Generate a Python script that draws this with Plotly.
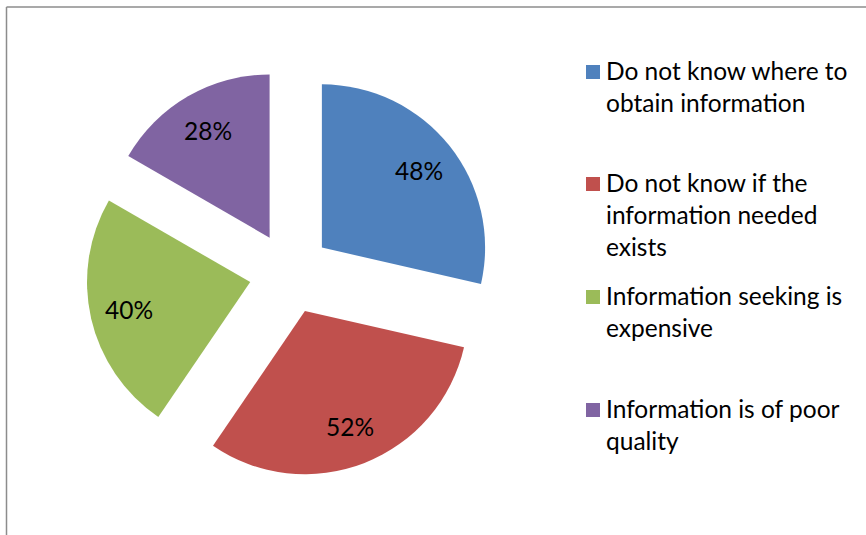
import math
import textwrap
import plotly.graph_objects as go

# Reasons reported for not seeking information (percent of respondents)
categories = [
    "Do not know where to obtain information",
    "Do not know if the information needed exists",
    "Information seeking is expensive",
    "Information is of poor quality",
]
values = [48, 52, 40, 28]
colors = ["#4F81BD", "#C0504D", "#9BBB59", "#8064A2"]

W, H = 866, 535
FONT = "Lato"
FS = 24.5
PULL = 0.25
LABEL_R = 0.76  # label distance from slice apex, as a fraction of radius

# Pie box in pixels (left, top, right, bottom)
BOX = (86, 69, 494, 477)


def px_x(x):
    return x / W


def px_y(y):
    return 1 - y / H


fig = go.Figure(
    go.Pie(
        labels=categories,
        values=values,
        marker=dict(colors=colors, line=dict(width=0)),
        sort=False,
        direction="clockwise",
        rotation=0,
        pull=[PULL] * len(values),
        textinfo="none",
        hoverinfo="label+value",
        showlegend=False,
        domain=dict(x=[px_x(BOX[0]), px_x(BOX[2])], y=[px_y(BOX[3]), px_y(BOX[1])]),
    )
)

annotations = []

# Value labels placed along each slice's bisector
cx, cy = (BOX[0] + BOX[2]) / 2, (BOX[1] + BOX[3]) / 2
radius = min(BOX[2] - BOX[0], BOX[3] - BOX[1]) / (2 * (1 + PULL))
total = sum(values)
start = 0.0
for v in values:
    mid = 2 * math.pi * (start + v / 2) / total
    start += v
    d = (PULL + LABEL_R) * radius
    lx, ly = cx + d * math.sin(mid), cy - d * math.cos(mid)
    annotations.append(dict(
        xref="paper", yref="paper", x=px_x(lx), y=px_y(ly),
        xanchor="center", yanchor="middle", showarrow=False,
        text=f"{v}%", font=dict(family=FONT, size=FS, color="black"),
    ))

# Legend drawn as swatches with wrapped captions
legend_rows = [72, 184, 297, 410]
shapes = []
for cat, col, row in zip(categories, colors, legend_rows):
    shapes.append(dict(
        type="rect", xref="paper", yref="paper",
        x0=px_x(586), x1=px_x(600), y0=px_y(row + 7), y1=px_y(row - 7),
        fillcolor=col, line=dict(width=0),
    ))
    annotations.append(dict(
        xref="paper", yref="paper", x=px_x(604), y=px_y(row - 18),
        xanchor="left", yanchor="top", align="left", showarrow=False,
        text="<br>".join(textwrap.wrap(cat, 22)),
        font=dict(family=FONT, size=FS, color="black"),
    ))

# Chart frame (top and left edges visible)
frame = dict(color="#8C8C8C", width=1.5)
shapes.append(dict(type="line", xref="paper", yref="paper",
                   x0=px_x(6.5), x1=1, y0=px_y(7), y1=px_y(7), line=frame))
shapes.append(dict(type="line", xref="paper", yref="paper",
                   x0=px_x(6.5), x1=px_x(6.5), y0=0, y1=px_y(7), line=frame))

fig.update_layout(
    width=W, height=H,
    margin=dict(l=0, r=0, t=0, b=0),
    paper_bgcolor="white",
    plot_bgcolor="white",
    shapes=shapes,
    annotations=annotations,
)

fig.write_html("out.html")
